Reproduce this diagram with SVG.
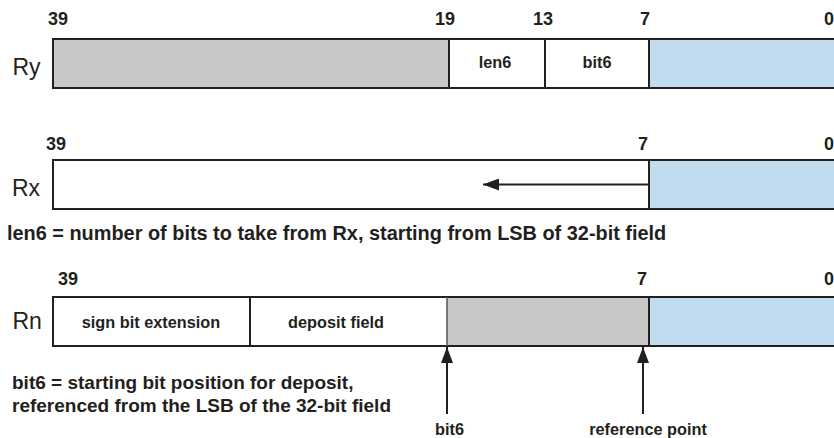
<svg xmlns="http://www.w3.org/2000/svg" width="834" height="438" viewBox="0 0 834 438">
<defs>
<style>
.box{stroke:#231f20;stroke-width:2;fill:none}
.div{stroke:#231f20;stroke-width:2}
.gray{fill:#c8c8c8}
.blue{fill:#c1dcef}
.white{fill:#ffffff}
.reg{font-family:"Liberation Sans",Arial,sans-serif;font-size:23px;fill:#231f20}
.num{font-family:"Liberation Sans",Arial,sans-serif;font-size:18px;font-weight:bold;fill:#231f20}
.cell{font-family:"Liberation Sans",Arial,sans-serif;font-size:16.3px;font-weight:bold;fill:#231f20;text-anchor:middle}
.note{font-family:"Liberation Sans",Arial,sans-serif;font-size:19px;font-weight:bold;fill:#231f20}
.conn{stroke:#231f20;stroke-width:2;fill:none}
</style>
<marker id="ah" viewBox="0 0 16 12" refX="16" refY="6" markerWidth="16" markerHeight="12" markerUnits="userSpaceOnUse" orient="auto">
<path d="M0,0 L16,6 L0,12 Z" fill="#231f20"/>
</marker>
</defs>
<rect width="834" height="438" fill="#ffffff"/>

<g id="Ry">
<rect class="gray" x="53" y="39" width="396" height="49"/>
<rect class="white" x="449" y="39" width="200" height="49"/>
<rect class="blue" x="649" y="39" width="200" height="49"/>
<rect class="box" x="53" y="39" width="800" height="49"/>
<line class="div" x1="449" y1="39" x2="449" y2="88"/>
<line class="div" x1="545" y1="39" x2="545" y2="88"/>
<line class="div" x1="649" y1="39" x2="649" y2="88"/>
<text class="reg" x="12.5" y="75">Ry</text>
<text class="num" x="48" y="25">39</text>
<text class="num" x="435" y="25">19</text>
<text class="num" x="533" y="25">13</text>
<text class="num" x="640" y="25">7</text>
<text class="num" x="824" y="25">0</text>
<text class="cell" x="495" y="68">len6</text>
<text class="cell" x="597" y="68">bit6</text>
</g>

<g id="Rx">
<rect class="white" x="53" y="160" width="596" height="49"/>
<rect class="blue" x="649" y="160" width="200" height="49"/>
<rect class="box" x="53" y="160" width="800" height="49"/>
<line class="div" x1="649" y1="160" x2="649" y2="209"/>
<text class="reg" x="12" y="196">Rx</text>
<text class="num" x="46" y="150">39</text>
<text class="num" x="638" y="150">7</text>
<text class="num" x="824" y="150">0</text>
</g>

<g id="len6-note">
<text class="note" x="7" y="240" style="font-size:19.9px">len6 = number of bits to take from Rx, starting from LSB of 32-bit field</text>
</g>

<g id="Rn">
<rect class="white" x="53" y="297" width="394" height="49"/>
<rect class="gray" x="447" y="297" width="202" height="49"/>
<rect class="blue" x="649" y="297" width="200" height="49"/>
<rect class="box" x="53" y="297" width="800" height="49"/>
<line class="div" x1="250" y1="297" x2="250" y2="346"/>
<line x1="447" y1="297" x2="447" y2="346" stroke="#555" stroke-width="1.5"/>
<line class="div" x1="649" y1="297" x2="649" y2="346"/>
<text class="reg" x="12.5" y="329">Rn</text>
<text class="num" x="58" y="285">39</text>
<text class="num" x="637" y="285">7</text>
<text class="num" x="824" y="285">0</text>
<text class="cell" x="151" y="328">sign bit extension</text>
<text class="cell" x="336" y="328">deposit field</text>
</g>

<g id="bit6-note">
<text class="note" x="12" y="389">bit6 = starting bit position for deposit,</text>
<text class="note" x="12" y="412">referenced from the LSB of the 32-bit field</text>
</g>

<g id="labels">
<text class="cell" x="449.5" y="435">bit6</text>
<text class="cell" x="648" y="435">reference point</text>
</g>

<g id="connectors">
<line class="conn" x1="648" y1="184.5" x2="483" y2="184.5" stroke-width="1.6" marker-end="url(#ah)"/>
<line class="conn" x1="447" y1="414" x2="447" y2="347" marker-end="url(#ah)"/>
<line class="conn" x1="643" y1="414" x2="643" y2="347" marker-end="url(#ah)"/>
</g>
</svg>
